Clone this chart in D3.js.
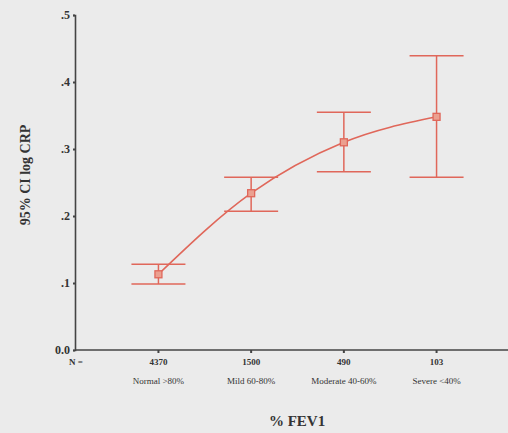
<!DOCTYPE html>
<html>
<head>
<meta charset="utf-8">
<script src="https://cdn.jsdelivr.net/npm/d3@7"></script>
<style>
  html, body { margin: 0; padding: 0; background: #ebebeb; }
  svg { display: block; }
  text { font-family: "Liberation Serif", "DejaVu Serif", serif; fill: #333; }
</style>
</head>
<body>
<svg id="chart" width="508" height="433"></svg>
<script>
// FEV1 groups with mean log CRP and 95% confidence limits
const categories = ["Normal >80%", "Mild 60-80%", "Moderate 40-60%", "Severe <40%"];
const counts = [4370, 1500, 490, 103];
const means = [0.113, 0.234, 0.310, 0.348];
const lower = [0.0985, 0.207, 0.266, 0.258];
const upper = [0.128, 0.258, 0.355, 0.439];
const yTicks = [0, 0.1, 0.2, 0.3, 0.4, 0.5];

const data = categories.map((c, i) => ({
  cat: c, n: counts[i], mean: means[i], lo: lower[i], hi: upper[i]
}));

const svg = d3.select("#chart");
const red = "#e0675a";
const axisCol = "#444";

const x = d3.scalePoint().domain(categories).range([75, 520]).padding(0.9);
const y = d3.scaleLinear().domain([0, 0.5]).range([350, 15]);

// y axis
const fmt = v => v === 0 ? "0.0" : d3.format(".1f")(v).replace(/^0/, "");
const yAxis = svg.append("g")
  .attr("transform", "translate(75,0)")
  .call(d3.axisLeft(y).tickValues(yTicks).tickFormat(fmt).tickSize(2).tickPadding(3));
yAxis.select(".domain").attr("stroke", axisCol).attr("stroke-width", 1.6);
yAxis.selectAll(".tick line").attr("stroke", axisCol).attr("stroke-width", 2);
yAxis.selectAll(".tick text")
  .style("font-family", "'Liberation Serif', serif")
  .style("font-size", "12px").style("font-weight", "bold").attr("fill", "#444");

// x axis line
svg.append("line")
  .attr("x1", 75).attr("x2", 508)
  .attr("y1", y(0)).attr("y2", y(0))
  .attr("stroke", axisCol).attr("stroke-width", 1.6);

// x tick marks
svg.selectAll(".xtick").data(categories).enter().append("line")
  .attr("x1", d => x(d)).attr("x2", d => x(d))
  .attr("y1", y(0)).attr("y2", y(0) + 3)
  .attr("stroke", axisCol).attr("stroke-width", 2);

// N counts and category names
svg.append("text").attr("x", 76).attr("y", 365)
  .attr("text-anchor", "middle").style("font-size", "9px").style("font-weight", "bold")
  .attr("fill", "#444").text("N =");
svg.selectAll(".ncount").data(data).enter().append("text")
  .attr("x", d => x(d.cat)).attr("y", 365)
  .attr("text-anchor", "middle").style("font-size", "9px").style("font-weight", "bold")
  .attr("fill", "#444").text(d => d.n);
svg.selectAll(".catlab").data(data).enter().append("text")
  .attr("x", d => x(d.cat)).attr("y", 384)
  .attr("text-anchor", "middle").style("font-size", "9px")
  .attr("fill", "#333").text(d => d.cat);

// axis titles
svg.append("text").attr("x", 297).attr("y", 426)
  .attr("text-anchor", "middle").style("font-size", "15px").style("font-weight", "bold")
  .attr("fill", "#3a3a3a").text("% FEV1");
svg.append("text")
  .attr("transform", "translate(30,175) rotate(-90)")
  .attr("text-anchor", "middle").style("font-size", "14px").style("font-weight", "bold")
  .attr("fill", "#3a3a3a").text("95% CI log CRP");

// error bars
const capHalf = 27;
const eb = svg.selectAll(".eb").data(data).enter().append("g");
eb.append("line")
  .attr("x1", d => x(d.cat)).attr("x2", d => x(d.cat))
  .attr("y1", d => y(d.lo)).attr("y2", d => y(d.hi))
  .attr("stroke", red).attr("stroke-width", 1.5);
eb.append("line")
  .attr("x1", d => x(d.cat) - capHalf).attr("x2", d => x(d.cat) + capHalf)
  .attr("y1", d => y(d.hi)).attr("y2", d => y(d.hi))
  .attr("stroke", red).attr("stroke-width", 1.5);
eb.append("line")
  .attr("x1", d => x(d.cat) - capHalf).attr("x2", d => x(d.cat) + capHalf)
  .attr("y1", d => y(d.lo)).attr("y2", d => y(d.lo))
  .attr("stroke", red).attr("stroke-width", 1.5);

// smooth line through the means
const line = d3.line().x(d => x(d.cat)).y(d => y(d.mean)).curve(d3.curveMonotoneX);
svg.append("path").datum(data)
  .attr("d", line).attr("fill", "none")
  .attr("stroke", red).attr("stroke-width", 1.6);

// mean markers
const s = 7;
svg.selectAll(".mk").data(data).enter().append("rect")
  .attr("x", d => x(d.cat) - s / 2).attr("y", d => y(d.mean) - s / 2)
  .attr("width", s).attr("height", s)
  .attr("fill", "#eba090").attr("stroke", red).attr("stroke-width", 1.3);
</script>
</body>
</html>
